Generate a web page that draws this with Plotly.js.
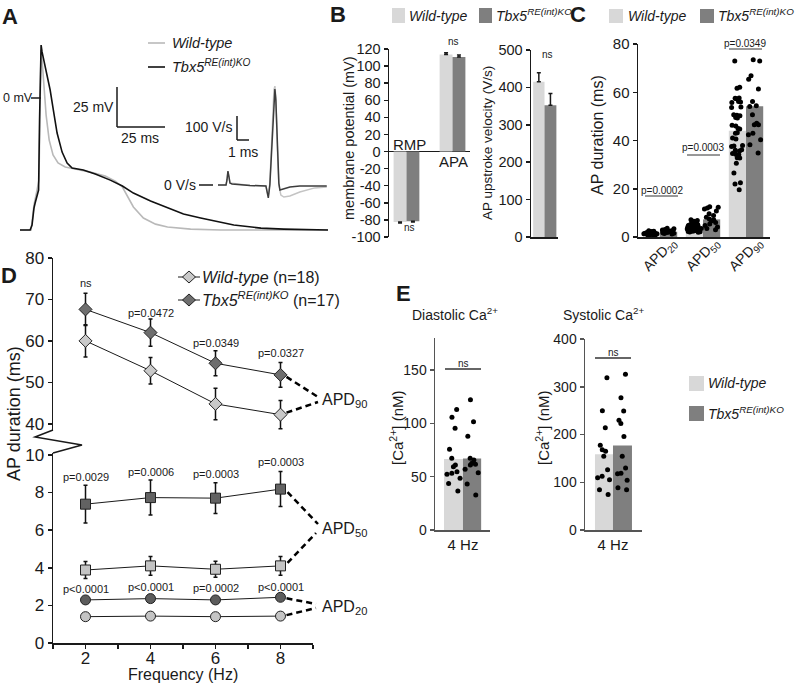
<!DOCTYPE html>
<html><head><meta charset="utf-8">
<script src="https://cdn.plot.ly/plotly-3.0.1.min.js"></script>
<style>html,body{margin:0;padding:0;background:#fff}#chart{width:796px;height:684px}</style>
</head><body><div id="chart"></div>
<script>
// ---------------- DATA ----------------
// Panel A: action potential (time ms, membrane potential mV)
const apTimeKO = [-6.3,-1.0,0,0.5,1.0,1.6,2.6,3.4,3.9,4.4,4.7,5.2,6.3,7.8,9.4,10.9,13.0,15.6,18.2,20.8,26.6,32.8,40.6,46.9,52.6,61.5,70.3,78.6,87.5,104.7,118.8,130.7,153.6];
const apKO     = [-82.5,-82.5,-79.4,-71.9,-68.8,-65.6,-61.9,-57.5,-13.8,31.3,33.1,28.8,22.5,14.4,5.0,-6.3,-21.9,-33.8,-40.6,-43.8,-45.0,-47.5,-51.3,-55.0,-59.4,-64.4,-68.8,-72.5,-75.0,-79.4,-81.3,-81.9,-82.5];
const apTimeWT = [-6.3,-0.5,0,1.0,2.6,3.6,4.2,4.4,4.7,5.2,6.3,7.3,8.9,10.9,13.5,17.2,22.4,30.2,38.0,43.2,46.9,49.5,52.6,57.8,64.1,70.3,82.3,97.9,153.6];
const apWT     = [-82.5,-82.5,-77.5,-66.9,-57.5,-51.3,-1.3,28.8,30.0,23.8,5.0,-10.6,-26.3,-35.6,-40.6,-43.1,-44.4,-46.3,-48.8,-51.9,-55.6,-61.3,-68.1,-75.0,-78.8,-80.6,-81.9,-82.5,-82.5];
// Panel A inset: upstroke velocity dV/dt (time ms, V/s)
const dvTimeKO = [0,0.67,0.75,0.83,0.92,1.0,1.17,2.67,4.0,4.13,4.2,4.33,4.5,4.67,4.75,4.83,4.96,5.08,5.17,5.4,6.0,6.83,9.08];
const dvKO     = [0,0,21,58,33,8,4,-2,-4,-42,-54,0,187,375,400,354,146,8,-21,-17,-8,-4,-4];
const dvTimeWT = [0,0.67,0.75,0.83,0.92,1.0,2.67,4.0,4.13,4.2,4.33,4.5,4.67,4.75,4.83,4.96,5.08,5.25,5.5,6.0,6.83,8.08,9.08];
const dvWT     = [0,0,21,54,33,8,-2,-4,-33,-42,8,208,396,412,362,146,0,-42,-50,-46,-29,-12,-8];

// Panel B
const bCategories = ['RMP','APA'];
const bWT = [-82.5, 113.5], bWTerr = [1.0, 2.0];
const bKO = [-81.5, 110.5], bKOerr = [1.0, 2.5];
const bPvals = ['ns','ns'];
const velWT = [415], velWTerr = [24];
const velKO = [352], velKOerr = [32];
const velPval = 'ns';
const bTicks = [-100,-80,-60,-40,-20,0,20,40,60,80,100,120];

// Panel C
const cCategories = ['APD<sub>20</sub>','APD<sub>50</sub>','APD<sub>90</sub>'];
const cWTmean = [1.4, 4.0, 44.0];
const cKOmean = [2.2, 7.3, 54.2];
const cWT20 = [2.6,2.4,2.3,2.2,2.1,2.0,2.0,1.9,1.9,1.8,1.8,1.7,1.7,1.6,1.6,1.6,1.5,1.5,1.5,1.4,1.4,1.4,1.3,1.3,1.3,1.2,1.2,1.2,1.1,1.1,1.1,1.0,1.0,0.9,0.9,0.8,1.5,1.4,1.3,1.2];
const cKO20 = [3.6,3.4,3.1,2.9,2.7,2.6,2.5,2.4,2.3,2.2,2.1,2.0,1.9,1.8,1.6,1.4,1.2];
const cWT50 = [7.2,6.8,6.5,6.1,5.9,5.6,5.4,5.2,5.0,4.9,4.8,4.6,4.5,4.4,4.3,4.2,4.1,4.0,3.9,3.8,3.7,3.6,3.5,3.4,3.3,3.2,3.1,3.0,2.9,2.8,2.7,2.6,2.5,2.4,2.3,2.2,2.1,2.0,4.7,3.9];
const cKO50 = [12.5,12.3,12.0,11.6,10.8,9.6,8.9,8.2,7.5,7.1,6.6,6.0,5.4,4.8,4.1,3.5,3.0];
const cWT90 = [73,62.1,61.7,57.5,57.3,57.6,56,56.2,55.8,53.7,53.9,50.5,50.7,50.3,49.5,49.3,46.3,46,45,44.8,43,43.2,40.6,41,37.7,37.9,37.5,36,35.6,36.2,34.3,34.1,34.6,32.7,32.9,30.6,26.5,22.5,22,19.6];
const cKO90 = [73,73.5,66.8,65.4,61.3,56.2,54.4,54.1,50.7,47.2,46.5,46.5,43,42.4,40.3,38.2,34.8];
const cPvals = ['p=0.0002','p=0.0003','p=0.0349'];

// Panel D
const freq = [2,4,6,8];
const freqTicks = [1,2,3,4,5,6,7,8,9];
const freqTickText = ['','2','','4','','6','','8',''];
const apd90WT = [60.0,52.8,44.8,42.2], apd90WTerr = [3.9,3.2,3.8,3.4];
const apd90KO = [67.6,62.0,54.6,51.8], apd90KOerr = [3.9,3.3,3.0,3.0];
const apd50WT = [3.88,4.10,3.92,4.10], apd50WTerr = [0.45,0.50,0.43,0.50];
const apd50KO = [7.38,7.73,7.70,8.18], apd50KOerr = [1.00,0.93,0.82,0.93];
const apd20WT = [1.40,1.43,1.40,1.43], apd20WTerr = [0.06,0.06,0.06,0.06];
const apd20KO = [2.29,2.36,2.29,2.43], apd20KOerr = [0.08,0.08,0.08,0.08];
const p90 = ['ns','p=0.0472','p=0.0349','p=0.0327'];
const p50 = ['p=0.0029','p=0.0006','p=0.0003','p=0.0003'];
const p20 = ['p<0.0001','p<0.0001','p=0.0002','p<0.0001'];

// Panel E
const eCategory = ['4 Hz'];
const diaWTmean = [66.5], diaKOmean = [67.0];
const diaWT = [113,105.6,95.3,75.6,67.2,61,59.4,54.7,53.1,52.2,48.4,43.7,36.6];
const diaKO = [122,101.6,88,67.2,65.6,62.5,61.6,61,56.9,53.7,43.1,32.8];
const sysWTmean = [158.5], sysKOmean = [177.0];
const sysWT = [319,249.6,214,177.5,168,165,154.4,126.4,112.4,109.6,105.4,84.4,74.6];
const sysKO = [326,277,249,230,223,196,154.4,130,119,118,104,88.6,84.4];

// ---------------- HELPERS ----------------
const W = 796, H = 684;
const X = p => p / W, Y = p => 1 - p / H;
const dX = (a, b) => [a / W, b / W];
const dY = (top, bot) => [1 - bot / H, 1 - top / H];
const F = '"Liberation Sans", Arial, Helvetica, sans-serif';
const INK = '#1a1a1a';
const WTC = '#d8d8d8', KOC = '#7f7f7f';

const shapes = [], annotations = [];
function L(x0, y0, x1, y1, color, width, dash) {
  shapes.push({type:'line', xref:'paper', yref:'paper', x0:X(x0), y0:Y(y0), x1:X(x1), y1:Y(y1),
    line:{color:color||INK, width:width||1.5, dash:dash||'solid'}});
}
function R(x0, y0, x1, y1, fill) {
  shapes.push({type:'rect', xref:'paper', yref:'paper', x0:X(x0), y0:Y(y0), x1:X(x1), y1:Y(y1),
    line:{width:0}, fillcolor:fill});
}
function Path(pts, fill, lc, lw, closed) {
  let d = pts.map((p, i) => (i ? 'L' : 'M') + X(p[0]).toFixed(5) + ',' + Y(p[1]).toFixed(5)).join(' ');
  if (closed) d += ' Z';
  shapes.push({type:'path', xref:'paper', yref:'paper', path:d, fillcolor:fill||'rgba(0,0,0,0)',
    line:{color:lc||INK, width:lw||1.5}});
}
function T(text, x, y, size, o) {
  o = o || {};
  annotations.push({text, x:X(x), y:Y(y), xref:'paper', yref:'paper', showarrow:false,
    xanchor:o.xa||'center', yanchor:o.ya||'middle', textangle:o.angle||0, borderpad:0,
    font:{family:F, size, color:o.color||INK, weight:o.bold?'bold':'normal', style:o.italic?'italic':'normal'}});
}
function ax(o) {
  return Object.assign({showgrid:false, zeroline:false, showline:true, linecolor:INK, linewidth:1.5,
    ticks:'outside', ticklen:4, tickwidth:1.5, tickcolor:INK, type:'linear',
    tickfont:{family:F, size:14.5, color:INK}, fixedrange:true}, o);
}
function bar(xv, yv, xa, ya, color, offset, width, err) {
  const t = {type:'bar', x:xv, y:yv, xaxis:xa, yaxis:ya, offset, width, marker:{color, line:{width:0}},
    showlegend:false, hoverinfo:'skip'};
  if (err) t.error_y = {type:'data', symmetric:false,
    array: yv.map((v, i) => v >= 0 ? err[i] : 0),
    arrayminus: yv.map((v, i) => v < 0 ? err[i] : 0),
    color:INK, thickness:1.5, width:2};
  return t;
}
function dots(vals, x0, xa, ya, w) {
  return {type:'box', y:vals, x0, xaxis:xa, yaxis:ya, boxpoints:'all', jitter:1, pointpos:0, width:w,
    fillcolor:'rgba(0,0,0,0)', line:{width:0, color:'rgba(0,0,0,0)'},
    marker:{color:'#000', size:5}, hoverinfo:'skip', showlegend:false};
}
function dline(x, y, err, ya, sym, fill, size) {
  return {type:'scatter', mode:'lines+markers', x, y, xaxis:'x6', yaxis:ya,
    line:{color:INK, width:1}, marker:{symbol:sym, size, color:fill, line:{color:'#222', width:1}},
    error_y:{type:'data', array:err, color:'#111', thickness:1.5, width:2}, showlegend:false, hoverinfo:'skip', cliponaxis:false};
}

// ---------------- TRACES ----------------
const traces = [];
// A
traces.push({type:'scatter', mode:'lines', x:apTimeWT, y:apWT, xaxis:'x', yaxis:'y', line:{color:'#b9b9b9', width:1.6}, showlegend:false, hoverinfo:'skip'});
traces.push({type:'scatter', mode:'lines', x:apTimeKO, y:apKO, xaxis:'x', yaxis:'y', line:{color:'#111', width:1.6}, showlegend:false, hoverinfo:'skip'});
traces.push({type:'scatter', mode:'lines', x:dvTimeWT, y:dvWT, xaxis:'x2', yaxis:'y2', line:{color:'#c4c4c4', width:1.5}, showlegend:false, hoverinfo:'skip'});
traces.push({type:'scatter', mode:'lines', x:dvTimeKO, y:dvKO, xaxis:'x2', yaxis:'y2', line:{color:'#3c3c3c', width:1.5}, showlegend:false, hoverinfo:'skip'});
// B
const bIdx = bCategories.map((_, i) => i);
traces.push(bar(bIdx, bWT, 'x3', 'y3', WTC, -0.28, 0.28, bWTerr));
traces.push(bar(bIdx, bKO, 'x3', 'y3', KOC, 0, 0.28, bKOerr));
traces.push(bar([0], velWT, 'x4', 'y4', WTC, -0.42, 0.42, velWTerr));
traces.push(bar([0], velKO, 'x4', 'y4', KOC, 0, 0.44, velKOerr));
// C
const cIdx = cCategories.map((_, i) => i);
traces.push(bar(cIdx, cWTmean, 'x5', 'y5', WTC, -0.4, 0.4));
traces.push(bar(cIdx, cKOmean, 'x5', 'y5', KOC, 0, 0.4));
[[cWT20, cKO20], [cWT50, cKO50], [cWT90, cKO90]].forEach((pair, i) => {
  traces.push(dots(pair[0], i - 0.2, 'x5', 'y5', 0.36));
  traces.push(dots(pair[1], i + 0.2, 'x5', 'y5', 0.36));
});
// D
traces.push(dline(freq, apd90WT, apd90WTerr, 'y7', 'diamond', '#c9c9c9', 10));
traces.push(dline(freq, apd90KO, apd90KOerr, 'y7', 'diamond', '#6e6e6e', 10));
traces.push(dline(freq, apd50WT, apd50WTerr, 'y6', 'square', '#c4c4c4', 10));
traces.push(dline(freq, apd50KO, apd50KOerr, 'y6', 'square', '#626262', 10));
traces.push(dline(freq, apd20WT, apd20WTerr, 'y6', 'circle', '#c4c4c4', 10));
traces.push(dline(freq, apd20KO, apd20KOerr, 'y6', 'circle', '#5c5c5c', 10));
// E
traces.push(bar([0], diaWTmean, 'x8', 'y8', WTC, -0.345, 0.345));
traces.push(bar([0], diaKOmean, 'x8', 'y8', KOC, 0, 0.33));
traces.push(dots(diaWT, -0.17, 'x8', 'y8', 0.3));
traces.push(dots(diaKO, 0.165, 'x8', 'y8', 0.3));
traces.push(bar([0], sysWTmean, 'x9', 'y9', WTC, -0.316, 0.316));
traces.push(bar([0], sysKOmean, 'x9', 'y9', KOC, 0, 0.333));
traces.push(dots(sysWT, -0.158, 'x9', 'y9', 0.28));
traces.push(dots(sysKO, 0.166, 'x9', 'y9', 0.28));

// ---------------- DECORATION ----------------
// panel letters
T('A', 10, 16, 22, {bold:true}); T('B', 338, 15, 22, {bold:true}); T('C', 578, 15, 22, {bold:true});
T('D', 9, 275, 22, {bold:true}); T('E', 403, 293, 22, {bold:true});
// A scale bars & labels
L(31, 98, 41, 98); T('0 mV', 2, 98, 12.5, {xa:'left'});
L(117, 87, 117, 127); L(117, 127, 165, 127);
T('25 mV', 115, 107, 14, {xa:'right'}); T('25 ms', 140, 138, 14);
L(237, 116, 237, 140); L(237, 140, 249, 140);
T('100 V/s', 233, 127, 14, {xa:'right'}); T('1 ms', 243, 152, 14);
L(199, 185, 213, 185); T('0 V/s', 197, 185, 14, {xa:'right'});
// A legend
L(148, 43, 165, 43, '#b9b9b9', 1.6); T('Wild-type', 171, 43, 14.5, {xa:'left', italic:true});
L(148, 67, 165, 67, '#111', 1.6); T('Tbx5<sup>RE(int)KO</sup>', 171, 66, 14.5, {xa:'left', italic:true});
// B legend
R(392, 8, 405, 23, WTC); T('Wild-type', 408, 16, 14, {xa:'left', italic:true});
R(479, 8, 492, 23, KOC); T('Tbx5<sup>RE(int)KO</sup>', 495, 15, 14, {xa:'left', italic:true});
// B labels
T(bCategories[0], 410, 144, 15); T(bCategories[1], 453, 162, 15);
T(bPvals[0], 410, 227, 10); T(bPvals[1], 453, 41, 10); T(velPval, 547, 55, 10);
T('membrane potential (mV)', 349, 138, 14.5, {angle:-90});
T('AP upstroke velocity (V/s)', 488, 143, 13.5, {angle:-90});
// C legend
R(609, 9, 623, 23, WTC); T('Wild-type', 627, 16, 14, {xa:'left', italic:true});
R(700, 9, 714, 23, KOC); T('Tbx5<sup>RE(int)KO</sup>', 717, 15, 14, {xa:'left', italic:true});
T('AP duration (ms)', 597, 135, 16, {angle:-90});
// C category labels (rotated)
cCategories.forEach((c, i) => {
  annotations.push({text:c, x:i, xref:'x5', y:Y(255), yref:'paper', showarrow:false, textangle:-45,
    xanchor:'center', yanchor:'middle', borderpad:0, font:{family:F, size:14, color:INK}});
});
// C p-values
[[662, 190, 645, 678, 196], [703, 148, 687, 720, 155], [745, 43, 729, 762, 49]].forEach((p, i) => {
  T(cPvals[i], p[0], p[1], 10); L(p[2], p[4], p[3], p[4], '#333', 1);
});
// D axis break
Path([[53, 430], [35, 437], [82, 445], [53, 453]], null, INK, 1.5);
T('AP duration (ms)', 14, 414, 18, {angle:-90});
T('Frequency (Hz)', 183, 674, 16);
// D legend
L(178, 277, 200, 277, INK, 1); Path([[189, 271], [195.5, 277], [189, 283], [182.5, 277]], '#c9c9c9', '#222', 1, true);
T('<i>Wild-type</i> (n=18)', 201, 277, 16, {xa:'left'});
L(178, 300, 200, 300, INK, 1); Path([[189, 294], [195.5, 300], [189, 306], [182.5, 300]], '#6e6e6e', '#222', 1, true);
T('<i>Tbx5</i><sup><i>RE(int)KO</i></sup> (n=17)', 201, 299, 16, {xa:'left'});
// D p-values
const xD = v => 53 + (v - 1) / 8 * 260;
const p90y = [283, 313, 343, 353], p50y = [477, 472, 474, 462], p20y = [589, 587, 588, 587];
freq.forEach((f, i) => {
  T(p90[i], xD(f), p90y[i], 11); T(p50[i], xD(f), p50y[i], 11); T(p20[i], xD(f), p20y[i], 11);
});
// D dashed connectors and labels
const yU = v => 258 + (80 - v) * (172 / 41.5);
const yL = v => 643 - v * (190 / 10.1);
const xe = xD(freq[3]);
const DS = '6px,4px';
L(xe + 6, yU(apd90KO[3]) + 2, 318, 397, '#000', 2.5, DS); L(xe + 6, yU(apd90WT[3]) - 2, 318, 402, '#000', 2.5, DS);
L(xe + 7, yL(apd50KO[3]) + 3, 318, 524, '#000', 2.5, DS); L(xe + 7, yL(apd50WT[3]) - 3, 316, 533, '#000', 2.5, DS);
L(xe + 6, yL(apd20KO[3]) + 1, 316, 604, '#000', 2.5, DS); L(xe + 6, yL(apd20WT[3]) - 1, 316, 608, '#000', 2.5, DS);
T('APD<sub>90</sub>', 321, 400, 16, {xa:'left'});
T('APD<sub>50</sub>', 321, 529, 16, {xa:'left'});
T('APD<sub>20</sub>', 321, 607, 16, {xa:'left'});
// E titles, ns, legend
T('Diastolic Ca<sup>2+</sup>', 455, 314, 14); T('Systolic Ca<sup>2+</sup>', 603, 314, 14);
T('[Ca<sup>2+</sup>] (nM)', 396, 428, 15, {angle:-90}); T('[Ca<sup>2+</sup>] (nM)', 542, 428, 15, {angle:-90});
L(445, 369, 481, 369, '#333', 1.5); T('ns', 463, 363, 10);
L(595, 358, 631, 358, '#333', 1.5); T('ns', 613, 352, 10);
R(689, 376, 704, 391, WTC); T('Wild-type', 707, 383, 14, {xa:'left', italic:true});
R(689, 406, 704, 421, KOC); T('Tbx5<sup>RE(int)KO</sup>', 707, 413, 14, {xa:'left', italic:true});

// ---------------- LAYOUT ----------------
const EC = '#555';
const DF = {family:F, size:17, color:INK};
const layout = {
  width: W, height: H, margin:{l:0, r:0, t:0, b:0}, paper_bgcolor:'#fff', plot_bgcolor:'rgba(0,0,0,0)',
  showlegend:false, font:{family:F, color:INK},
  xaxis: ax({domain:dX(20, 328), range:[-6.25, 153.6], visible:false, anchor:'y'}),
  yaxis: ax({domain:dY(30, 235), range:[-85.6, 42.5], visible:false, anchor:'x'}),
  xaxis2: ax({domain:dX(218, 327), range:[0, 9.1], visible:false, anchor:'y2'}),
  yaxis2: ax({domain:dY(80, 205), range:[-83.3, 437.5], visible:false, anchor:'x2'}),
  xaxis3: ax({domain:dX(389, 470), range:[-0.38, 1.38], visible:false, anchor:'y3'}),
  yaxis3: ax({domain:dY(49, 237), range:[-100, 120], tickvals:bTicks, ticktext:bTicks.map(String), anchor:'x3',
    zeroline:true, zerolinecolor:INK, zerolinewidth:1.5}),
  xaxis4: ax({domain:dX(531, 558), range:[-0.5, 0.5], ticks:'', showticklabels:false, anchor:'y4'}),
  yaxis4: ax({domain:dY(50, 237), range:[0, 500], dtick:100, anchor:'x4'}),
  xaxis5: ax({domain:dX(638, 770), range:[-0.512, 2.558], ticks:'', showticklabels:false, anchor:'y5'}),
  yaxis5: ax({domain:dY(44, 237), range:[0, 80], dtick:20, anchor:'x5', tickfont:{family:F, size:15, color:INK}}),
  xaxis6: ax({domain:dX(53, 313), range:[1, 9], tickvals:freqTicks, ticktext:freqTickText, anchor:'y6', tickfont:DF, ticklabelstandoff:-5}),
  yaxis6: ax({domain:dY(453, 643), range:[0, 10.1], tickvals:[0,2,4,6,8,10], anchor:'x6', tickfont:DF}),
  yaxis7: ax({domain:dY(258, 430), range:[38.5, 80], tickvals:[40,50,60,70,80], anchor:'x6', tickfont:DF}),
  xaxis8: ax({domain:dX(435, 490), range:[-0.509, 0.491], ticks:'', tickvals:[0], ticktext:eCategory, anchor:'y8', linecolor:EC, tickfont:{family:F, size:15, color:INK}}),
  yaxis8: ax({domain:dY(338, 530), range:[0, 180], tickvals:[0,50,100,150], anchor:'x8', linecolor:EC, tickcolor:EC, tickfont:{family:F, size:14, color:INK}}),
  xaxis9: ax({domain:dX(585, 642), range:[-0.491, 0.509], ticks:'', tickvals:[0], ticktext:eCategory, anchor:'y9', linecolor:EC, tickfont:{family:F, size:15, color:INK}}),
  yaxis9: ax({domain:dY(339, 530), range:[0, 400], dtick:100, anchor:'x9', linecolor:EC, tickcolor:EC, tickfont:{family:F, size:14, color:INK}}),
  shapes, annotations
};
Plotly.newPlot('chart', traces, layout, {staticPlot:true, displayModeBar:false});
</script></body></html>
